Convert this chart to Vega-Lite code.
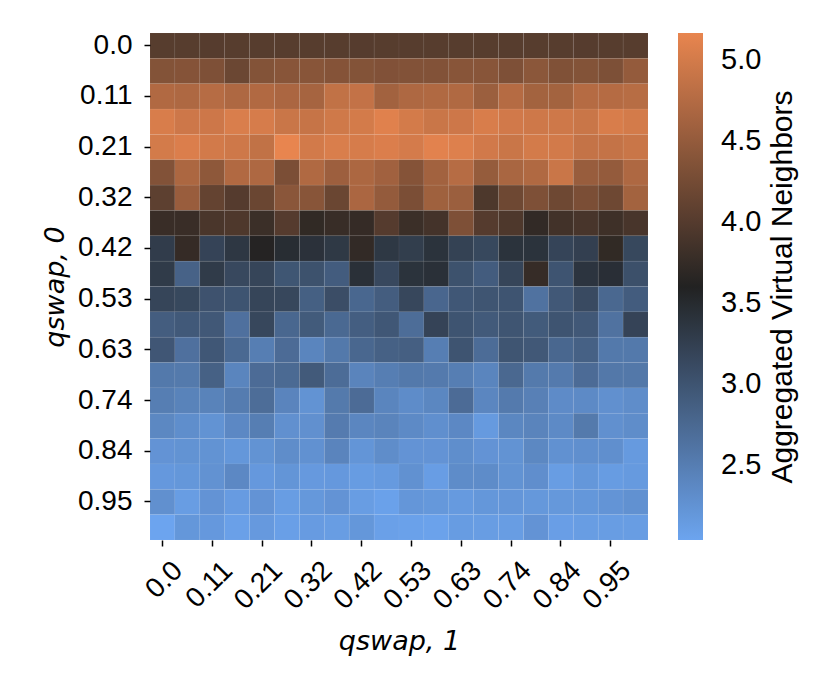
{
"$schema": "https://vega.github.io/schema/vega-lite/v6.json",
"width": 498, "height": 507,
"autosize": {"type": "none"},
"padding": {"left": 150, "top": 33, "right": 182, "bottom": 152},
"background": "white",
"config": {"view": {"stroke": null}, "font": "Liberation Sans"},
"data": {"values": [
{"q0":0,"q1":0,"v":4.02},{"q0":0,"q1":0.0526,"v":4.02},{"q0":0,"q1":0.1053,"v":4.01},{"q0":0,"q1":0.1579,"v":4.02},{"q0":0,"q1":0.2105,"v":4.02},{"q0":0,"q1":0.2632,"v":4.02},{"q0":0,"q1":0.3158,"v":4.02},{"q0":0,"q1":0.3684,"v":4.02},{"q0":0,"q1":0.4211,"v":4.01},{"q0":0,"q1":0.4737,"v":4.02},{"q0":0,"q1":0.5263,"v":4.02},{"q0":0,"q1":0.5789,"v":4.02},{"q0":0,"q1":0.6316,"v":4.02},{"q0":0,"q1":0.6842,"v":4.02},{"q0":0,"q1":0.7368,"v":4.02},{"q0":0,"q1":0.7895,"v":4.02},{"q0":0,"q1":0.8421,"v":4.02},{"q0":0,"q1":0.8947,"v":4.01},{"q0":0,"q1":0.9474,"v":4.02},{"q0":0,"q1":1,"v":4.02},
{"q0":0.0526,"q1":0,"v":4.37},{"q0":0.0526,"q1":0.0526,"v":4.38},{"q0":0.0526,"q1":0.1053,"v":4.33},{"q0":0.0526,"q1":0.1579,"v":4.18},{"q0":0.0526,"q1":0.2105,"v":4.37},{"q0":0.0526,"q1":0.2632,"v":4.41},{"q0":0.0526,"q1":0.3158,"v":4.41},{"q0":0.0526,"q1":0.3684,"v":4.38},{"q0":0.0526,"q1":0.4211,"v":4.37},{"q0":0.0526,"q1":0.4737,"v":4.35},{"q0":0.0526,"q1":0.5263,"v":4.36},{"q0":0.0526,"q1":0.5789,"v":4.36},{"q0":0.0526,"q1":0.6316,"v":4.41},{"q0":0.0526,"q1":0.6842,"v":4.41},{"q0":0.0526,"q1":0.7368,"v":4.33},{"q0":0.0526,"q1":0.7895,"v":4.43},{"q0":0.0526,"q1":0.8421,"v":4.34},{"q0":0.0526,"q1":0.8947,"v":4.37},{"q0":0.0526,"q1":0.9474,"v":4.32},{"q0":0.0526,"q1":1,"v":4.5},
{"q0":0.1053,"q1":0,"v":4.73},{"q0":0.1053,"q1":0.0526,"v":4.71},{"q0":0.1053,"q1":0.1053,"v":4.77},{"q0":0.1053,"q1":0.1579,"v":4.71},{"q0":0.1053,"q1":0.2105,"v":4.73},{"q0":0.1053,"q1":0.2632,"v":4.68},{"q0":0.1053,"q1":0.3158,"v":4.64},{"q0":0.1053,"q1":0.3684,"v":4.86},{"q0":0.1053,"q1":0.4211,"v":4.87},{"q0":0.1053,"q1":0.4737,"v":4.61},{"q0":0.1053,"q1":0.5263,"v":4.71},{"q0":0.1053,"q1":0.5789,"v":4.72},{"q0":0.1053,"q1":0.6316,"v":4.72},{"q0":0.1053,"q1":0.6842,"v":4.56},{"q0":0.1053,"q1":0.7368,"v":4.76},{"q0":0.1053,"q1":0.7895,"v":4.62},{"q0":0.1053,"q1":0.8421,"v":4.62},{"q0":0.1053,"q1":0.8947,"v":4.76},{"q0":0.1053,"q1":0.9474,"v":4.76},{"q0":0.1053,"q1":1,"v":4.78},
{"q0":0.1579,"q1":0,"v":5.04},{"q0":0.1579,"q1":0.0526,"v":4.95},{"q0":0.1579,"q1":0.1053,"v":4.95},{"q0":0.1579,"q1":0.1579,"v":5.05},{"q0":0.1579,"q1":0.2105,"v":5.02},{"q0":0.1579,"q1":0.2632,"v":4.92},{"q0":0.1579,"q1":0.3158,"v":4.9},{"q0":0.1579,"q1":0.3684,"v":4.97},{"q0":0.1579,"q1":0.4211,"v":5.0},{"q0":0.1579,"q1":0.4737,"v":5.1},{"q0":0.1579,"q1":0.5263,"v":5.0},{"q0":0.1579,"q1":0.5789,"v":4.92},{"q0":0.1579,"q1":0.6316,"v":4.95},{"q0":0.1579,"q1":0.6842,"v":5.04},{"q0":0.1579,"q1":0.7368,"v":4.98},{"q0":0.1579,"q1":0.7895,"v":4.96},{"q0":0.1579,"q1":0.8421,"v":4.96},{"q0":0.1579,"q1":0.8947,"v":4.92},{"q0":0.1579,"q1":0.9474,"v":5.04},{"q0":0.1579,"q1":1,"v":5.0},
{"q0":0.2105,"q1":0,"v":5.0},{"q0":0.2105,"q1":0.0526,"v":5.06},{"q0":0.2105,"q1":0.1053,"v":4.99},{"q0":0.2105,"q1":0.1579,"v":4.96},{"q0":0.2105,"q1":0.2105,"v":4.86},{"q0":0.2105,"q1":0.2632,"v":5.165},{"q0":0.2105,"q1":0.3158,"v":4.99},{"q0":0.2105,"q1":0.3684,"v":5.05},{"q0":0.2105,"q1":0.4211,"v":5.02},{"q0":0.2105,"q1":0.4737,"v":5.06},{"q0":0.2105,"q1":0.5263,"v":5.01},{"q0":0.2105,"q1":0.5789,"v":5.12},{"q0":0.2105,"q1":0.6316,"v":5.08},{"q0":0.2105,"q1":0.6842,"v":4.98},{"q0":0.2105,"q1":0.7368,"v":4.92},{"q0":0.2105,"q1":0.7895,"v":5.0},{"q0":0.2105,"q1":0.8421,"v":4.99},{"q0":0.2105,"q1":0.8947,"v":4.88},{"q0":0.2105,"q1":0.9474,"v":4.88},{"q0":0.2105,"q1":1,"v":4.92},
{"q0":0.2632,"q1":0,"v":4.36},{"q0":0.2632,"q1":0.0526,"v":4.69},{"q0":0.2632,"q1":0.1053,"v":4.45},{"q0":0.2632,"q1":0.1579,"v":4.73},{"q0":0.2632,"q1":0.2105,"v":4.71},{"q0":0.2632,"q1":0.2632,"v":4.3},{"q0":0.2632,"q1":0.3158,"v":4.72},{"q0":0.2632,"q1":0.3684,"v":4.57},{"q0":0.2632,"q1":0.4211,"v":4.69},{"q0":0.2632,"q1":0.4737,"v":4.6},{"q0":0.2632,"q1":0.5263,"v":4.38},{"q0":0.2632,"q1":0.5789,"v":4.61},{"q0":0.2632,"q1":0.6316,"v":4.77},{"q0":0.2632,"q1":0.6842,"v":4.51},{"q0":0.2632,"q1":0.7368,"v":4.67},{"q0":0.2632,"q1":0.7895,"v":4.72},{"q0":0.2632,"q1":0.8421,"v":4.92},{"q0":0.2632,"q1":0.8947,"v":4.53},{"q0":0.2632,"q1":0.9474,"v":4.5},{"q0":0.2632,"q1":1,"v":4.71},
{"q0":0.3158,"q1":0,"v":4.07},{"q0":0.3158,"q1":0.0526,"v":4.54},{"q0":0.3158,"q1":0.1053,"v":4.12},{"q0":0.3158,"q1":0.1579,"v":4.0},{"q0":0.3158,"q1":0.2105,"v":4.17},{"q0":0.3158,"q1":0.2632,"v":4.42},{"q0":0.3158,"q1":0.3158,"v":4.41},{"q0":0.3158,"q1":0.3684,"v":4.17},{"q0":0.3158,"q1":0.4211,"v":4.68},{"q0":0.3158,"q1":0.4737,"v":4.5},{"q0":0.3158,"q1":0.5263,"v":4.3},{"q0":0.3158,"q1":0.5789,"v":4.59},{"q0":0.3158,"q1":0.6316,"v":4.56},{"q0":0.3158,"q1":0.6842,"v":3.94},{"q0":0.3158,"q1":0.7368,"v":4.2},{"q0":0.3158,"q1":0.7895,"v":4.33},{"q0":0.3158,"q1":0.8421,"v":4.2},{"q0":0.3158,"q1":0.8947,"v":4.3},{"q0":0.3158,"q1":0.9474,"v":4.2},{"q0":0.3158,"q1":1,"v":4.62},
{"q0":0.3684,"q1":0,"v":3.78},{"q0":0.3684,"q1":0.0526,"v":3.78},{"q0":0.3684,"q1":0.1053,"v":3.92},{"q0":0.3684,"q1":0.1579,"v":3.95},{"q0":0.3684,"q1":0.2105,"v":3.8},{"q0":0.3684,"q1":0.2632,"v":4.0},{"q0":0.3684,"q1":0.3158,"v":3.72},{"q0":0.3684,"q1":0.3684,"v":3.77},{"q0":0.3684,"q1":0.4211,"v":3.75},{"q0":0.3684,"q1":0.4737,"v":4.0},{"q0":0.3684,"q1":0.5263,"v":3.8},{"q0":0.3684,"q1":0.5789,"v":3.87},{"q0":0.3684,"q1":0.6316,"v":4.33},{"q0":0.3684,"q1":0.6842,"v":4.0},{"q0":0.3684,"q1":0.7368,"v":3.95},{"q0":0.3684,"q1":0.7895,"v":3.73},{"q0":0.3684,"q1":0.8421,"v":3.85},{"q0":0.3684,"q1":0.8947,"v":3.9},{"q0":0.3684,"q1":0.9474,"v":3.82},{"q0":0.3684,"q1":1,"v":3.9},
{"q0":0.4211,"q1":0,"v":3.29},{"q0":0.4211,"q1":0.0526,"v":3.75},{"q0":0.4211,"q1":0.1053,"v":3.2},{"q0":0.4211,"q1":0.1579,"v":3.35},{"q0":0.4211,"q1":0.2105,"v":3.62},{"q0":0.4211,"q1":0.2632,"v":3.47},{"q0":0.4211,"q1":0.3158,"v":3.42},{"q0":0.4211,"q1":0.3684,"v":3.33},{"q0":0.4211,"q1":0.4211,"v":3.73},{"q0":0.4211,"q1":0.4737,"v":3.34},{"q0":0.4211,"q1":0.5263,"v":3.27},{"q0":0.4211,"q1":0.5789,"v":3.4},{"q0":0.4211,"q1":0.6316,"v":3.22},{"q0":0.4211,"q1":0.6842,"v":3.15},{"q0":0.4211,"q1":0.7368,"v":3.4},{"q0":0.4211,"q1":0.7895,"v":3.4},{"q0":0.4211,"q1":0.8421,"v":3.19},{"q0":0.4211,"q1":0.8947,"v":3.25},{"q0":0.4211,"q1":0.9474,"v":3.72},{"q0":0.4211,"q1":1,"v":3.15},
{"q0":0.4737,"q1":0,"v":3.3},{"q0":0.4737,"q1":0.0526,"v":2.83},{"q0":0.4737,"q1":0.1053,"v":3.3},{"q0":0.4737,"q1":0.1579,"v":3.14},{"q0":0.4737,"q1":0.2105,"v":3.18},{"q0":0.4737,"q1":0.2632,"v":2.98},{"q0":0.4737,"q1":0.3158,"v":3.03},{"q0":0.4737,"q1":0.3684,"v":2.9},{"q0":0.4737,"q1":0.4211,"v":3.43},{"q0":0.4737,"q1":0.4737,"v":3.14},{"q0":0.4737,"q1":0.5263,"v":3.4},{"q0":0.4737,"q1":0.5789,"v":3.43},{"q0":0.4737,"q1":0.6316,"v":3.03},{"q0":0.4737,"q1":0.6842,"v":2.9},{"q0":0.4737,"q1":0.7368,"v":3.18},{"q0":0.4737,"q1":0.7895,"v":3.76},{"q0":0.4737,"q1":0.8421,"v":3.0},{"q0":0.4737,"q1":0.8947,"v":3.38},{"q0":0.4737,"q1":0.9474,"v":3.45},{"q0":0.4737,"q1":1,"v":3.05},
{"q0":0.5263,"q1":0,"v":3.18},{"q0":0.5263,"q1":0.0526,"v":3.15},{"q0":0.5263,"q1":0.1053,"v":3.02},{"q0":0.5263,"q1":0.1579,"v":3.0},{"q0":0.5263,"q1":0.2105,"v":3.18},{"q0":0.5263,"q1":0.2632,"v":3.16},{"q0":0.5263,"q1":0.3158,"v":2.86},{"q0":0.5263,"q1":0.3684,"v":3.08},{"q0":0.5263,"q1":0.4211,"v":2.77},{"q0":0.5263,"q1":0.4737,"v":2.89},{"q0":0.5263,"q1":0.5263,"v":3.16},{"q0":0.5263,"q1":0.5789,"v":2.78},{"q0":0.5263,"q1":0.6316,"v":2.96},{"q0":0.5263,"q1":0.6842,"v":2.99},{"q0":0.5263,"q1":0.7368,"v":3.0},{"q0":0.5263,"q1":0.7895,"v":2.64},{"q0":0.5263,"q1":0.8421,"v":2.95},{"q0":0.5263,"q1":0.8947,"v":3.12},{"q0":0.5263,"q1":0.9474,"v":2.76},{"q0":0.5263,"q1":1,"v":2.9},
{"q0":0.5789,"q1":0,"v":2.89},{"q0":0.5789,"q1":0.0526,"v":2.94},{"q0":0.5789,"q1":0.1053,"v":2.95},{"q0":0.5789,"q1":0.1579,"v":2.66},{"q0":0.5789,"q1":0.2105,"v":3.16},{"q0":0.5789,"q1":0.2632,"v":2.77},{"q0":0.5789,"q1":0.3158,"v":2.92},{"q0":0.5789,"q1":0.3684,"v":2.75},{"q0":0.5789,"q1":0.4211,"v":2.88},{"q0":0.5789,"q1":0.4737,"v":2.96},{"q0":0.5789,"q1":0.5263,"v":2.7},{"q0":0.5789,"q1":0.5789,"v":3.2},{"q0":0.5789,"q1":0.6316,"v":3.0},{"q0":0.5789,"q1":0.6842,"v":2.93},{"q0":0.5789,"q1":0.7368,"v":2.99},{"q0":0.5789,"q1":0.7895,"v":2.92},{"q0":0.5789,"q1":0.8421,"v":3.0},{"q0":0.5789,"q1":0.8947,"v":2.95},{"q0":0.5789,"q1":0.9474,"v":2.64},{"q0":0.5789,"q1":1,"v":3.2},
{"q0":0.6316,"q1":0,"v":2.97},{"q0":0.6316,"q1":0.0526,"v":2.66},{"q0":0.6316,"q1":0.1053,"v":2.96},{"q0":0.6316,"q1":0.1579,"v":2.75},{"q0":0.6316,"q1":0.2105,"v":2.5},{"q0":0.6316,"q1":0.2632,"v":2.72},{"q0":0.6316,"q1":0.3158,"v":2.41},{"q0":0.6316,"q1":0.3684,"v":2.56},{"q0":0.6316,"q1":0.4211,"v":2.77},{"q0":0.6316,"q1":0.4737,"v":2.85},{"q0":0.6316,"q1":0.5263,"v":2.87},{"q0":0.6316,"q1":0.5789,"v":2.5},{"q0":0.6316,"q1":0.6316,"v":3.0},{"q0":0.6316,"q1":0.6842,"v":2.71},{"q0":0.6316,"q1":0.7368,"v":2.99},{"q0":0.6316,"q1":0.7895,"v":2.95},{"q0":0.6316,"q1":0.8421,"v":2.77},{"q0":0.6316,"q1":0.8947,"v":2.85},{"q0":0.6316,"q1":0.9474,"v":2.56},{"q0":0.6316,"q1":1,"v":2.56},
{"q0":0.6842,"q1":0,"v":2.56},{"q0":0.6842,"q1":0.0526,"v":2.55},{"q0":0.6842,"q1":0.1053,"v":2.85},{"q0":0.6842,"q1":0.1579,"v":2.41},{"q0":0.6842,"q1":0.2105,"v":2.72},{"q0":0.6842,"q1":0.2632,"v":2.74},{"q0":0.6842,"q1":0.3158,"v":2.93},{"q0":0.6842,"q1":0.3684,"v":2.71},{"q0":0.6842,"q1":0.4211,"v":2.43},{"q0":0.6842,"q1":0.4737,"v":2.5},{"q0":0.6842,"q1":0.5263,"v":2.56},{"q0":0.6842,"q1":0.5789,"v":2.54},{"q0":0.6842,"q1":0.6316,"v":2.5},{"q0":0.6842,"q1":0.6842,"v":2.41},{"q0":0.6842,"q1":0.7368,"v":2.76},{"q0":0.6842,"q1":0.7895,"v":2.55},{"q0":0.6842,"q1":0.8421,"v":2.54},{"q0":0.6842,"q1":0.8947,"v":2.72},{"q0":0.6842,"q1":0.9474,"v":2.57},{"q0":0.6842,"q1":1,"v":2.57},
{"q0":0.7368,"q1":0,"v":2.5},{"q0":0.7368,"q1":0.0526,"v":2.44},{"q0":0.7368,"q1":0.1053,"v":2.44},{"q0":0.7368,"q1":0.1579,"v":2.52},{"q0":0.7368,"q1":0.2105,"v":2.7},{"q0":0.7368,"q1":0.2632,"v":2.42},{"q0":0.7368,"q1":0.3158,"v":2.25},{"q0":0.7368,"q1":0.3684,"v":2.55},{"q0":0.7368,"q1":0.4211,"v":2.72},{"q0":0.7368,"q1":0.4737,"v":2.41},{"q0":0.7368,"q1":0.5263,"v":2.33},{"q0":0.7368,"q1":0.5789,"v":2.39},{"q0":0.7368,"q1":0.6316,"v":2.72},{"q0":0.7368,"q1":0.6842,"v":2.4},{"q0":0.7368,"q1":0.7368,"v":2.54},{"q0":0.7368,"q1":0.7895,"v":2.47},{"q0":0.7368,"q1":0.8421,"v":2.34},{"q0":0.7368,"q1":0.8947,"v":2.35},{"q0":0.7368,"q1":0.9474,"v":2.28},{"q0":0.7368,"q1":1,"v":2.32},
{"q0":0.7895,"q1":0,"v":2.38},{"q0":0.7895,"q1":0.0526,"v":2.31},{"q0":0.7895,"q1":0.1053,"v":2.25},{"q0":0.7895,"q1":0.1579,"v":2.37},{"q0":0.7895,"q1":0.2105,"v":2.5},{"q0":0.7895,"q1":0.2632,"v":2.28},{"q0":0.7895,"q1":0.3158,"v":2.28},{"q0":0.7895,"q1":0.3684,"v":2.53},{"q0":0.7895,"q1":0.4211,"v":2.4},{"q0":0.7895,"q1":0.4737,"v":2.43},{"q0":0.7895,"q1":0.5263,"v":2.35},{"q0":0.7895,"q1":0.5789,"v":2.29},{"q0":0.7895,"q1":0.6316,"v":2.37},{"q0":0.7895,"q1":0.6842,"v":2.16},{"q0":0.7895,"q1":0.7368,"v":2.39},{"q0":0.7895,"q1":0.7895,"v":2.43},{"q0":0.7895,"q1":0.8421,"v":2.35},{"q0":0.7895,"q1":0.8947,"v":2.55},{"q0":0.7895,"q1":0.9474,"v":2.28},{"q0":0.7895,"q1":1,"v":2.32},
{"q0":0.8421,"q1":0,"v":2.24},{"q0":0.8421,"q1":0.0526,"v":2.25},{"q0":0.8421,"q1":0.1053,"v":2.25},{"q0":0.8421,"q1":0.1579,"v":2.2},{"q0":0.8421,"q1":0.2105,"v":2.25},{"q0":0.8421,"q1":0.2632,"v":2.32},{"q0":0.8421,"q1":0.3158,"v":2.27},{"q0":0.8421,"q1":0.3684,"v":2.42},{"q0":0.8421,"q1":0.4211,"v":2.22},{"q0":0.8421,"q1":0.4737,"v":2.32},{"q0":0.8421,"q1":0.5263,"v":2.24},{"q0":0.8421,"q1":0.5789,"v":2.24},{"q0":0.8421,"q1":0.6316,"v":2.31},{"q0":0.8421,"q1":0.6842,"v":2.24},{"q0":0.8421,"q1":0.7368,"v":2.25},{"q0":0.8421,"q1":0.7895,"v":2.38},{"q0":0.8421,"q1":0.8421,"v":2.27},{"q0":0.8421,"q1":0.8947,"v":2.29},{"q0":0.8421,"q1":0.9474,"v":2.29},{"q0":0.8421,"q1":1,"v":2.16},
{"q0":0.8947,"q1":0,"v":2.18},{"q0":0.8947,"q1":0.0526,"v":2.2},{"q0":0.8947,"q1":0.1053,"v":2.26},{"q0":0.8947,"q1":0.1579,"v":2.37},{"q0":0.8947,"q1":0.2105,"v":2.18},{"q0":0.8947,"q1":0.2632,"v":2.22},{"q0":0.8947,"q1":0.3158,"v":2.17},{"q0":0.8947,"q1":0.3684,"v":2.18},{"q0":0.8947,"q1":0.4211,"v":2.14},{"q0":0.8947,"q1":0.4737,"v":2.16},{"q0":0.8947,"q1":0.5263,"v":2.27},{"q0":0.8947,"q1":0.5789,"v":2.12},{"q0":0.8947,"q1":0.6316,"v":2.33},{"q0":0.8947,"q1":0.6842,"v":2.33},{"q0":0.8947,"q1":0.7368,"v":2.25},{"q0":0.8947,"q1":0.7895,"v":2.3},{"q0":0.8947,"q1":0.8421,"v":2.13},{"q0":0.8947,"q1":0.8947,"v":2.2},{"q0":0.8947,"q1":0.9474,"v":2.14},{"q0":0.8947,"q1":1,"v":2.16},
{"q0":0.9474,"q1":0,"v":2.28},{"q0":0.9474,"q1":0.0526,"v":2.13},{"q0":0.9474,"q1":0.1053,"v":2.24},{"q0":0.9474,"q1":0.1579,"v":2.15},{"q0":0.9474,"q1":0.2105,"v":2.24},{"q0":0.9474,"q1":0.2632,"v":2.13},{"q0":0.9474,"q1":0.3158,"v":2.19},{"q0":0.9474,"q1":0.3684,"v":2.24},{"q0":0.9474,"q1":0.4211,"v":2.13},{"q0":0.9474,"q1":0.4737,"v":2.08},{"q0":0.9474,"q1":0.5263,"v":2.21},{"q0":0.9474,"q1":0.5789,"v":2.19},{"q0":0.9474,"q1":0.6316,"v":2.16},{"q0":0.9474,"q1":0.6842,"v":2.2},{"q0":0.9474,"q1":0.7368,"v":2.21},{"q0":0.9474,"q1":0.7895,"v":2.19},{"q0":0.9474,"q1":0.8421,"v":2.19},{"q0":0.9474,"q1":0.8947,"v":2.2},{"q0":0.9474,"q1":0.9474,"v":2.23},{"q0":0.9474,"q1":1,"v":2.27},
{"q0":1,"q1":0,"v":2.04},{"q0":1,"q1":0.0526,"v":2.2},{"q0":1,"q1":0.1053,"v":2.18},{"q0":1,"q1":0.1579,"v":2.09},{"q0":1,"q1":0.2105,"v":2.17},{"q0":1,"q1":0.2632,"v":2.1},{"q0":1,"q1":0.3158,"v":2.15},{"q0":1,"q1":0.3684,"v":2.13},{"q0":1,"q1":0.4211,"v":2.2},{"q0":1,"q1":0.4737,"v":2.09},{"q0":1,"q1":0.5263,"v":2.08},{"q0":1,"q1":0.5789,"v":2.07},{"q0":1,"q1":0.6316,"v":2.14},{"q0":1,"q1":0.6842,"v":2.13},{"q0":1,"q1":0.7368,"v":2.13},{"q0":1,"q1":0.7895,"v":2.24},{"q0":1,"q1":0.8421,"v":2.11},{"q0":1,"q1":0.8947,"v":2.13},{"q0":1,"q1":0.9474,"v":2.13},{"q0":1,"q1":1,"v":2.13}
]},
"mark": {"type": "rect", "stroke": "white", "strokeOpacity": 0.05, "strokeWidth": 0.8},
"encoding": {
"x": {"field": "q1", "type": "ordinal", "scale": {"paddingInner": 0, "paddingOuter": 0},
 "axis": {"values": [0, 0.1053, 0.2105, 0.3158, 0.4211, 0.5263, 0.6316, 0.7368, 0.8421, 0.9474],
  "labelExpr": "datum.value == 0 ? '0.0' : format(datum.value, '.2f')",
  "labelAngle": -45, "labelAlign": "right", "labelBaseline": "middle", "labelOffset": 16, "labelPadding": 20,
  "labelFontSize": 28, "labelColor": "black", "labelFont": "Liberation Sans",
  "tickColor": "black", "tickSize": 6, "tickWidth": 1.5, "domain": false, "grid": false,
  "title": "qswap, 1", "titleFont": "DejaVu Sans", "titleFontStyle": "italic", "titleFontWeight": "normal", "titleFontSize": 27, "titlePadding": 14, "titleColor": "black"}},
"y": {"field": "q0", "type": "ordinal", "scale": {"paddingInner": 0, "paddingOuter": 0},
 "axis": {"values": [0, 0.1053, 0.2105, 0.3158, 0.4211, 0.5263, 0.6316, 0.7368, 0.8421, 0.9474],
  "labelExpr": "datum.value == 0 ? '0.0' : format(datum.value, '.2f')",
  "labelFontSize": 28, "labelColor": "black", "labelFont": "Liberation Sans", "labelPadding": 12,
  "tickColor": "black", "tickSize": 6, "tickWidth": 1.5, "domain": false, "grid": false,
  "title": "qswap, 0", "titleFont": "DejaVu Sans", "titleFontStyle": "italic", "titleFontWeight": "normal", "titleFontSize": 27, "titlePadding": 8, "titleColor": "black"}},
"color": {"field": "v", "type": "quantitative",
 "scale": {"domain": [2.04, 3.6, 5.165], "range": ["#6ca4ef", "#222222", "#e8854f"], "interpolate": "rgb"},
 "legend": {"title": "Aggregated Virtual Neighbors", "orient": "right", "offset": 30, "padding": 0,
  "gradientLength": 507, "gradientThickness": 25, "gradientStrokeWidth": 0,
  "values": [2.5, 3, 3.5, 4, 4.5, 5], "format": ".1f", "labelOverlap": false,
  "labelFontSize": 29, "labelColor": "black", "labelFont": "Liberation Sans", "labelOffset": 18,
  "titleOrient": "right", "titleAnchor": "middle", "titleBaseline": "top", "titlePadding": 7, "titleLimit": 0,
  "titleFontSize": 30, "titleFontWeight": "normal", "titleColor": "black", "titleFont": "Liberation Sans",
  "encode": {"title": {"update": {"angle": {"value": -90}}}}}}
}
}
